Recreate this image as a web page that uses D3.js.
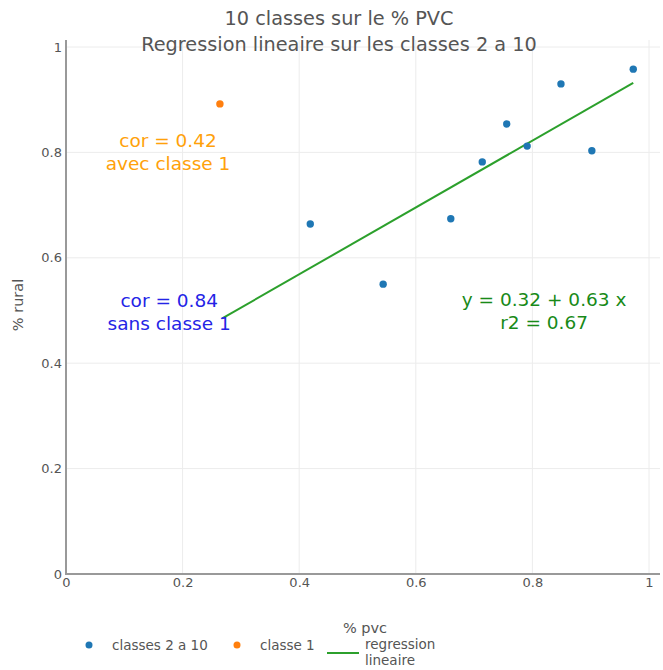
<!DOCTYPE html>
<html><head><meta charset="utf-8">
<script src="https://cdn.jsdelivr.net/npm/d3@7"></script>
<style>body{margin:0;background:#fff}svg{font-family:"DejaVu Sans",Verdana,sans-serif}</style>
</head><body>
<svg id="c" width="663" height="670"></svg>
<script>
const titleLines = ["10 classes sur le % PVC", "Regression lineaire sur les classes 2 a 10"];
const classesX = [0.419, 0.544, 0.660, 0.714, 0.756, 0.791, 0.849, 0.902, 0.973];
const classesY = [0.664, 0.550, 0.674, 0.782, 0.854, 0.812, 0.930, 0.803, 0.958];
const classe1X = [0.264];
const classe1Y = [0.892];
const regX = [0.268, 0.973];
const regY = [0.485, 0.932];
const xTicks = [0, 0.2, 0.4, 0.6, 0.8, 1];
const yTicks = [0, 0.2, 0.4, 0.6, 0.8, 1];
const legendLabels = ["classes 2 a 10", "classe 1", ["regression", "lineaire"]];
const annotations = [
  {x: 0.175, y: 0.810, lines: ["cor = 0.42", "avec classe 1"], color: "#ffa10a"},
  {x: 0.177, y: 0.507, lines: ["cor = 0.84", "sans classe 1"], color: "#2424e6"},
  {x: 0.82, y: 0.508, lines: ["y = 0.32 + 0.63 x", "r2 = 0.67"], color: "#188a18"}
];

const svg = d3.select("#c");
const x = d3.scaleLinear().domain([0, 1]).range([66, 649]);
const y = d3.scaleLinear().domain([0, 1]).range([574, 47]);
const plotTop = 40, plotRight = 660;

// grid
const g = svg.append("g");
g.selectAll(".gx").data(xTicks.slice(1)).join("line")
  .attr("x1", d => x(d)).attr("x2", d => x(d)).attr("y1", plotTop).attr("y2", 574)
  .attr("stroke", "#ececec").attr("stroke-width", 1);
g.selectAll(".gy").data(yTicks.slice(1)).join("line")
  .attr("x1", 66).attr("x2", plotRight).attr("y1", d => y(d)).attr("y2", d => y(d))
  .attr("stroke", "#ececec").attr("stroke-width", 1);

// axes lines
svg.append("line").attr("x1", 66).attr("x2", 66).attr("y1", plotTop).attr("y2", 575)
  .attr("stroke", "#999").attr("stroke-width", 2);
svg.append("line").attr("x1", 65).attr("x2", plotRight).attr("y1", 574).attr("y2", 574)
  .attr("stroke", "#999").attr("stroke-width", 2);

const fmt = d => d === 0 ? "0" : d === 1 ? "1" : String(d);
const xa = d3.axisBottom(x).tickValues(xTicks).tickFormat(fmt).tickSize(0).tickPadding(4);
const ya = d3.axisLeft(y).tickValues(yTicks).tickFormat(fmt).tickSize(0).tickPadding(4);
const gxA = svg.append("g").attr("transform", "translate(0,574)").call(xa);
const gyA = svg.append("g").attr("transform", "translate(66,0)").call(ya);
[gxA, gyA].forEach(a => {
  a.select(".domain").remove();
  a.selectAll("text").attr("fill", "#555").style("font-size", "13px").style("font-family", '"DejaVu Sans",Verdana,sans-serif');
});

// regression line
svg.append("path").datum(regX.map((v, i) => [v, regY[i]]))
  .attr("d", d3.line().x(d => x(d[0])).y(d => y(d[1])))
  .attr("stroke", "#2ca02c").attr("stroke-width", 2).attr("fill", "none");

// points
svg.selectAll(".p2").data(classesX.map((v, i) => [v, classesY[i]])).join("circle")
  .attr("cx", d => x(d[0])).attr("cy", d => y(d[1])).attr("r", 3.7).attr("fill", "#1f77b4");
svg.selectAll(".p1").data(classe1X.map((v, i) => [v, classe1Y[i]])).join("circle")
  .attr("cx", d => x(d[0])).attr("cy", d => y(d[1])).attr("r", 3.7).attr("fill", "#ff7f0e");

// annotations
annotations.forEach(a => {
  const t = svg.append("text").attr("text-anchor", "middle").attr("fill", a.color).style("font-size", "18.5px");
  a.lines.forEach((l, i) => t.append("tspan").attr("x", x(a.x)).attr("y", y(a.y) + i * 23).text(l));
});

// title
const tt = svg.append("text").attr("text-anchor", "middle").attr("fill", "#555").style("font-size", "19.3px");
titleLines.forEach((l, i) => tt.append("tspan").attr("x", 339).attr("y", 25 + i * 26).text(l));

// axis titles
svg.append("text").attr("x", 365).attr("y", 633).attr("text-anchor", "middle")
  .attr("fill", "#555").style("font-size", "14.5px").text("% pvc");
svg.append("text").attr("transform", "translate(23,305) rotate(-90)").attr("text-anchor", "middle")
  .attr("fill", "#555").style("font-size", "14.5px").text("% rural");

// legend
const ly = 645;
svg.append("circle").attr("cx", 89).attr("cy", ly).attr("r", 3.5).attr("fill", "#1f77b4");
svg.append("text").attr("x", 112).attr("y", ly + 5).attr("fill", "#555").style("font-size", "13.5px").text(legendLabels[0]);
svg.append("circle").attr("cx", 237).attr("cy", ly).attr("r", 3.5).attr("fill", "#ff7f0e");
svg.append("text").attr("x", 260).attr("y", ly + 5).attr("fill", "#555").style("font-size", "13.5px").text(legendLabels[1]);
svg.append("line").attr("x1", 327).attr("x2", 359).attr("y1", ly + 8).attr("y2", ly + 8)
  .attr("stroke", "#2ca02c").attr("stroke-width", 2);
const lt = svg.append("text").attr("fill", "#555").style("font-size", "13.5px");
legendLabels[2].forEach((l, i) => lt.append("tspan").attr("x", 365).attr("y", ly + 4 + i * 16).text(l));
</script>
</body></html>
